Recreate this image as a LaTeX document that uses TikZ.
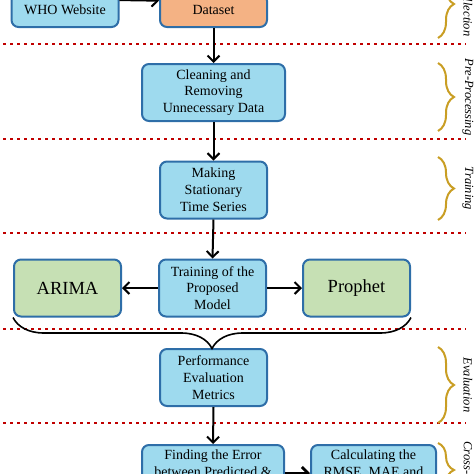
\documentclass[tikz,border=0pt]{standalone}
\usepackage{fontspec}
\setmainfont{Liberation Serif}
\usetikzlibrary{arrows.meta,decorations.pathreplacing}
\definecolor{boxblue}{RGB}{46,110,168}
\definecolor{skyfill}{RGB}{158,218,238}
\definecolor{peach}{RGB}{244,178,132}
\definecolor{sage}{RGB}{198,224,180}
\definecolor{dotred}{RGB}{192,0,0}
\definecolor{gold}{RGB}{201,158,36}

\begin{document}
\begin{tikzpicture}[x=1pt,y=-1pt,
    box/.style={draw=boxblue, line width=2pt, rounded corners=7pt, fill=skyfill,
      align=center, text=black, font=\fontsize{14}{16.8}\selectfont,
      minimum width=107pt, minimum height=57pt, inner sep=2pt},
    model/.style={box, fill=sage, font=\fontsize{18.5}{20}\selectfont},
    arr/.style={-{Straight Barb[length=6pt,width=12pt]}, line width=2pt},
    sep/.style={dotred, line width=2.6pt, dash pattern=on 2.6pt off 4.4pt},
    phase/.style={decorate, decoration={brace, amplitude=16pt}, draw=gold, line width=2pt},
    tag/.style={rotate=-90, font=\fontsize{12.5}{14}\selectfont\itshape, text=black}
]
\useasboundingbox (0,0) rectangle (474,474);
\clip (0,0) rectangle (474,474);

\foreach \y in {44,139,233,329,423}{
  \draw[sep] (3,\y) -- (466,\y);
}

% boxes
\node[box, anchor=south, minimum height=0pt, inner ysep=12pt] (who) at (65,28) {WHO Website};
\node[box, fill=peach, anchor=south, minimum height=0pt, inner ysep=12pt] (dataset) at (213.5,28) {Dataset};
\node[box, minimum width=143pt] (clean) at (213.5,92.5) {Cleaning and\\Removing\\Unnecessary Data};
\node[box] (station) at (213.5,190) {Making\\Stationary\\Time Series};
\node[box] (train) at (212.5,288) {Training of the\\Proposed\\Model};
\node[model] (arima) at (67.5,288) {ARIMA};
\node[model] (prophet) at (356.5,288) {Prophet};
\node[box] (perf) at (213.5,377.5) {Performance\\Evaluation\\Metrics};
\node[box, anchor=north, minimum width=142pt, minimum height=0pt, inner ysep=5pt] (finderr) at (213,444) {Finding the Error\\between Predicted \&};
\node[box, anchor=north, minimum width=125pt, minimum height=0pt, inner ysep=5pt] (calcerr) at (373.5,444) {Calculating the\\RMSE, MAE and};

% connectors
\draw[arr] ([yshift=-8pt]who.north east) -- ([yshift=-8pt]dataset.north west);
\draw[arr] (dataset.south) -- (clean.north);
\draw[arr] (clean.south) -- (station.north);
\draw[arr] (station.south) -- (train.north);
\draw[arr] (train.west) -- (arima.east);
\draw[arr] (train.east) -- (prophet.west);
\draw[decorate, decoration={brace, amplitude=31pt}, line width=1.6pt] (prophet.south east) -- (arima.south west);
\draw[arr] (perf.south) -- (finderr.north);
\draw[arr, line width=3pt] ([yshift=-29pt]finderr.north east) -- ([yshift=-29pt]calcerr.north west);

% phases
\draw[phase] (438,-30) -- (438,38);
\node[tag, anchor=east] (lblcoll) at (468,40) {Collection};
\foreach \ya/\yb/\name in {63/131/Pre-Processing, 157/220/Training, 347/423/Evaluation}{
  \draw[phase] (438,\ya) -- (438,\yb);
  \node[tag] (lbl\ya) at (468,{(\ya+\yb)/2}) {\name};
}
\draw[phase] (438,443) -- (438,497);
\node[tag, anchor=west] (lblcross) at (468,438) {Cross-Validation};

\end{tikzpicture}
\end{document}
